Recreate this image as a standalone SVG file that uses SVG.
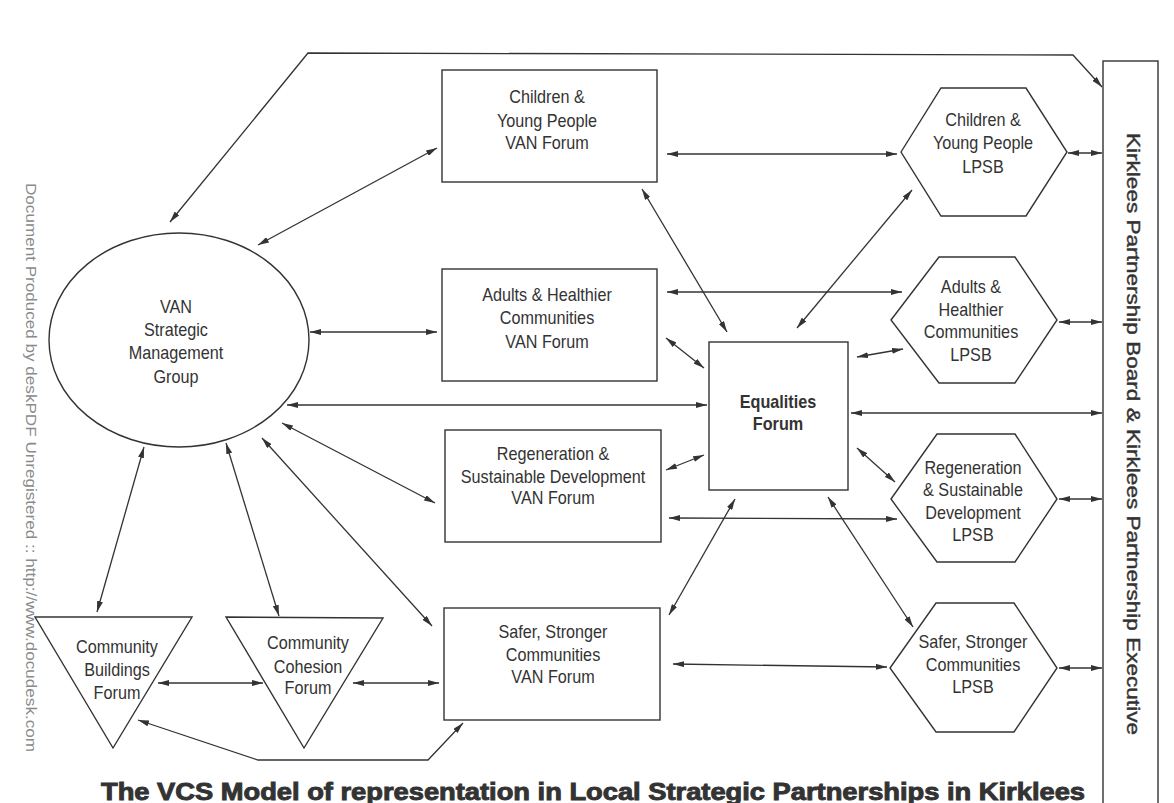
<svg xmlns="http://www.w3.org/2000/svg" width="1174" height="803" viewBox="0 0 1174 803">
<defs>
<style>
.n{fill:#fff;stroke:#333;stroke-width:1.4}
.t{font-family:"Liberation Sans",Arial,sans-serif;font-size:18px;fill:#333;text-anchor:middle}
.b{font-weight:bold}
.c path,.c line{fill:none;stroke:#333;stroke-width:1.3;marker-start:url(#a);marker-end:url(#a)}
</style>
<marker id="a" viewBox="0 0 11 6" refX="11" refY="3" markerWidth="11" markerHeight="6" markerUnits="userSpaceOnUse" orient="auto-start-reverse">
<path d="M0,0 L11,3 L0,6 z" fill="#333"/>
</marker>
</defs>
<rect width="1174" height="803" fill="#fff"/>

<text x="0" y="0" transform="translate(26,183) rotate(90)" font-family="Liberation Sans,Arial,sans-serif" font-size="15.5" fill="#8a8a8a" textLength="569" lengthAdjust="spacingAndGlyphs">Document Produced by deskPDF Unregistered :: http://www.docudesk.com</text>

<g class="c">
<path d="M170,222 L308,53 L1073,55 L1102,87"/>
<line x1="258" y1="245" x2="437" y2="148"/>
<line x1="310" y1="332" x2="437" y2="332"/>
<line x1="287" y1="405" x2="707" y2="405"/>
<line x1="282" y1="423" x2="435" y2="503"/>
<line x1="262" y1="438" x2="432" y2="626"/>
<line x1="144" y1="447" x2="97" y2="612"/>
<line x1="226" y1="443" x2="279" y2="616"/>
<line x1="158" y1="683" x2="263" y2="683"/>
<line x1="353" y1="683" x2="439" y2="683"/>
<path d="M138,720 L258,760 L428,760 L463,723"/>
<line x1="667" y1="154" x2="897" y2="154"/>
<line x1="642" y1="189" x2="727" y2="332"/>
<line x1="912" y1="190" x2="797" y2="328"/>
<line x1="667" y1="292" x2="902" y2="292"/>
<line x1="666" y1="338" x2="704" y2="368"/>
<line x1="857" y1="357" x2="903" y2="349"/>
<line x1="851" y1="413" x2="1102" y2="413"/>
<line x1="666" y1="470" x2="704" y2="455"/>
<line x1="857" y1="448" x2="895" y2="482"/>
<line x1="669" y1="518" x2="897" y2="519"/>
<line x1="669" y1="615" x2="735" y2="499"/>
<line x1="828" y1="497" x2="913" y2="627"/>
<line x1="673" y1="664" x2="887" y2="667"/>
<line x1="1068" y1="153" x2="1102" y2="153"/>
<line x1="1059" y1="322" x2="1102" y2="322"/>
<line x1="1059" y1="499" x2="1102" y2="499"/>
<line x1="1059" y1="668" x2="1102" y2="668"/>
</g>

<g id="van-smg">
<ellipse class="n" cx="179" cy="340" rx="130" ry="107"/>
<g transform="translate(176 0) scale(0.9 1)">
<text class="t" x="0" y="313">VAN</text>
<text class="t" x="0" y="336">Strategic</text>
<text class="t" x="0" y="359">Management</text>
<text class="t" x="0" y="383">Group</text>
</g>
</g>

<g id="cyp-van">
<rect class="n" x="442" y="70" width="215" height="112"/>
<g transform="translate(547 0) scale(0.9 1)">
<text class="t" x="0" y="103">Children &amp;</text>
<text class="t" x="0" y="127">Young People</text>
<text class="t" x="0" y="149">VAN Forum</text>
</g>
</g>

<g id="ahc-van">
<rect class="n" x="442" y="269" width="215" height="112"/>
<g transform="translate(547 0) scale(0.9 1)">
<text class="t" x="0" y="301">Adults &amp; Healthier</text>
<text class="t" x="0" y="324">Communities</text>
<text class="t" x="0" y="348">VAN Forum</text>
</g>
</g>

<g id="rsd-van">
<rect class="n" x="445" y="430" width="216" height="112"/>
<g transform="translate(553 0) scale(0.9 1)">
<text class="t" x="0" y="460">Regeneration &amp;</text>
<text class="t" x="0" y="483">Sustainable Development</text>
<text class="t" x="0" y="504">VAN Forum</text>
</g>
</g>

<g id="ssc-van">
<rect class="n" x="444" y="608" width="216" height="112"/>
<g transform="translate(553 0) scale(0.9 1)">
<text class="t" x="0" y="638">Safer, Stronger</text>
<text class="t" x="0" y="661">Communities</text>
<text class="t" x="0" y="683">VAN Forum</text>
</g>
</g>

<g id="equalities">
<rect class="n" x="709" y="342" width="139" height="148"/>
<g transform="translate(778 0) scale(0.9 1)">
<text class="t b" x="0" y="408">Equalities</text>
<text class="t b" x="0" y="430">Forum</text>
</g>
</g>

<g id="cyp-lpsb">
<polygon class="n" points="901,152 941,88 1026,88 1067,152 1026,216 941,216"/>
<g transform="translate(983 0) scale(0.9 1)">
<text class="t" x="0" y="126">Children &amp;</text>
<text class="t" x="0" y="149">Young People</text>
<text class="t" x="0" y="173">LPSB</text>
</g>
</g>

<g id="ahc-lpsb">
<polygon class="n" points="891,320 939,257 1015,257 1057,320 1015,383 939,383"/>
<g transform="translate(971 0) scale(0.9 1)">
<text class="t" x="0" y="293">Adults &amp;</text>
<text class="t" x="0" y="316">Healthier</text>
<text class="t" x="0" y="338">Communities</text>
<text class="t" x="0" y="361">LPSB</text>
</g>
</g>

<g id="rsd-lpsb">
<polygon class="n" points="891,499 937,434 1015,434 1057,499 1015,562 937,562"/>
<g transform="translate(973 0) scale(0.9 1)">
<text class="t" x="0" y="474">Regeneration</text>
<text class="t" x="0" y="496">&amp; Sustainable</text>
<text class="t" x="0" y="519">Development</text>
<text class="t" x="0" y="541">LPSB</text>
</g>
</g>

<g id="ssc-lpsb">
<polygon class="n" points="890,668 936,603 1014,603 1057,668 1014,732 936,732"/>
<g transform="translate(973 0) scale(0.9 1)">
<text class="t" x="0" y="648">Safer, Stronger</text>
<text class="t" x="0" y="671">Communities</text>
<text class="t" x="0" y="693">LPSB</text>
</g>
</g>

<g id="cb-forum">
<polygon class="n" points="35,617 192,617 113,748"/>
<g transform="translate(117 0) scale(0.9 1)">
<text class="t" x="0" y="653">Community</text>
<text class="t" x="0" y="676">Buildings</text>
<text class="t" x="0" y="699">Forum</text>
</g>
</g>

<g id="cc-forum">
<polygon class="n" points="226,617 383,618 304,748"/>
<g transform="translate(308 0) scale(0.9 1)">
<text class="t" x="0" y="649">Community</text>
<text class="t" x="0" y="673">Cohesion</text>
<text class="t" x="0" y="694">Forum</text>
</g>
</g>

<g id="kirklees">
<rect class="n" x="1103" y="61" width="55" height="760"/>
<text x="0" y="0" transform="translate(1127,133) rotate(90)" font-family="Liberation Sans,Arial,sans-serif" font-size="19" fill="#333" stroke="#333" stroke-width="0.4" textLength="602" lengthAdjust="spacingAndGlyphs">Kirklees Partnership Board &amp; Kirklees Partnership Executive</text>
</g>

<text x="101" y="800" font-family="Liberation Sans,Arial,sans-serif" font-weight="bold" font-size="23" fill="#333" stroke="#333" stroke-width="0.9" textLength="984" lengthAdjust="spacingAndGlyphs">The VCS Model of representation in Local Strategic Partnerships in Kirklees</text>
</svg>
